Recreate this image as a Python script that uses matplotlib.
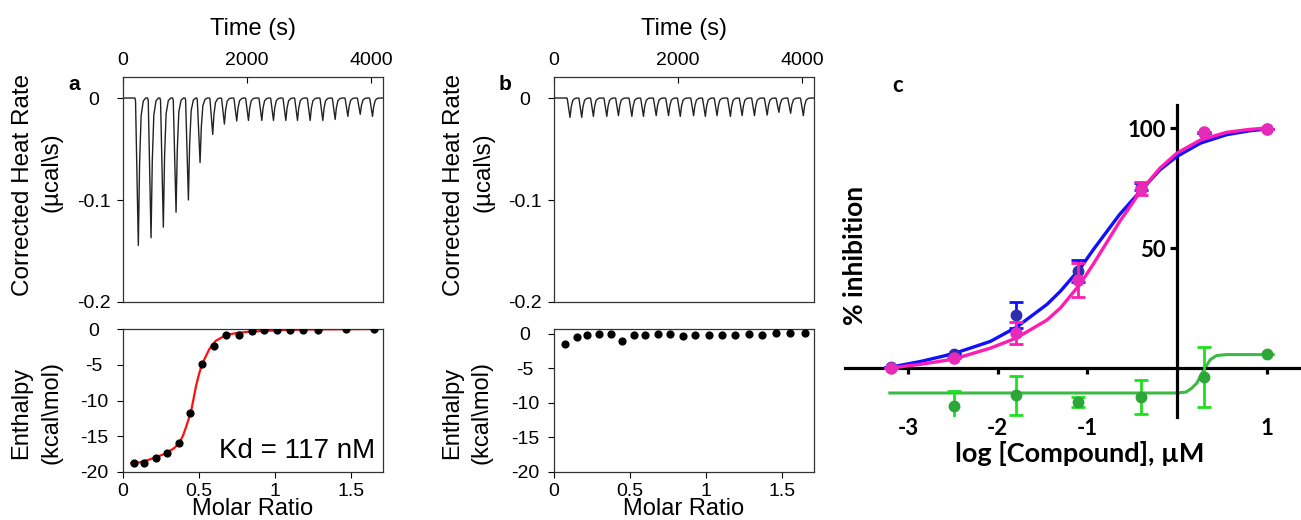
import numpy as np
import matplotlib
matplotlib.use('Agg')
import matplotlib.pyplot as plt

plt.rcParams['font.family'] = ['Liberation Sans', 'DejaVu Sans']
plt.rcParams['axes.unicode_minus'] = False

# ---- panel a / b : raw thermograms ----
inj_time_a = [247, 452, 650, 855, 1054, 1242, 1446, 1634, 1833, 2022,
              2237, 2425, 2624, 2812, 3016, 3220, 3419, 3624, 3823, 4021]
peak_depth_a = [0.1445, 0.137, 0.1266, 0.112, 0.100, 0.0633, 0.0357, 0.0255, 0.0225, 0.022,
                0.022, 0.022, 0.022, 0.022, 0.022, 0.022, 0.021, 0.018, 0.016, 0.018]
inj_time_b = [258, 447, 635, 851, 1039, 1255, 1442, 1647, 1846, 2035,
              2250, 2439, 2628, 2843, 3032, 3231, 3436, 3624, 3813, 4018]
peak_depth_b = [0.019, 0.019, 0.018, 0.018, 0.0173, 0.018, 0.018, 0.0173, 0.0173, 0.018,
                0.0173, 0.018, 0.0173, 0.018, 0.0173, 0.0173, 0.0167, 0.014, 0.015, 0.0173]
# shape of one injection peak: seconds from the minimum, fraction of depth
peak_offset = [-55, -45, 0, 20, 45, 80, 120]
peak_frac = [0, 0.02, 1, 0.45, 0.12, 0.02, 0]

# ---- panel a / b : integrated heats ----
molar_a = [0.07, 0.138, 0.22, 0.29, 0.367, 0.44, 0.518, 0.60, 0.68, 0.76,
           0.846, 0.93, 1.015, 1.10, 1.187, 1.28, 1.464, 1.65]
enthalpy_a = [-18.7, -18.7, -18.0, -17.4, -15.9, -11.7, -4.9, -2.4, -0.9, -0.85,
              -0.3, -0.2, -0.2, -0.15, -0.1, -0.2, -0.05, 0.0]
fit_molar_a = [0.055, 0.10, 0.175, 0.284, 0.34, 0.371, 0.395, 0.415, 0.448, 0.48,
               0.50, 0.52, 0.568, 0.61, 0.677, 0.75, 0.83, 1.05, 1.30, 1.65]
fit_enthalpy_a = [-18.75, -18.7, -18.25, -17.4, -16.6, -15.9, -14.9, -13.7, -11.5, -8.0,
                  -6.3, -4.9, -2.8, -1.65, -0.85, -0.55, -0.38, -0.15, -0.05, 0.0]
molar_b = [0.072, 0.149, 0.22, 0.295, 0.372, 0.446, 0.525, 0.60, 0.683, 0.766,
           0.849, 0.93, 1.02, 1.105, 1.19, 1.28, 1.368, 1.46, 1.55, 1.65]
enthalpy_b = [-1.45, -0.48, -0.15, 0.0, -0.05, -0.97, -0.1, -0.2, 0.0, 0.0,
              -0.3, -0.24, -0.1, -0.2, -0.1, -0.05, -0.1, 0.15, 0.15, 0.05]

# ---- panel c : dose response ----
log_conc = [-3.19, -2.49, -1.80, -1.10, -0.40, 0.30, 1.0]
inhib_blue = [0.5, 6.0, 22.2, 40.5, 75.5, 98.0, 99.5]
err_blue = [0, 0, 5.5, 4.5, 1.5, 0, 0]
inhib_pink = [0.0, 4.2, 14.6, 36.8, 74.8, 98.3, 99.6]
err_pink = [0, 0, 4.5, 7.0, 2.6, 0, 0]
log_conc_green = [-2.49, -1.80, -1.10, -0.40, 0.30, 1.0]
inhib_green = [-16.0, -11.4, -14.3, -12.0, -3.6, 5.8]
err_green = [6.5, 8.0, 2.1, 7.0, 12.5, 0]

curve_x = [-3.2, -2.85, -2.49, -2.08, -1.79, -1.45, -1.3, -1.08, -0.93, -0.64,
           -0.39, -0.19, 0.0, 0.26, 0.55, 0.8, 1.0]
curve_blue = [0.3, 2.8, 6.0, 11.1, 17.0, 26.5, 32.0, 41.5, 49.5, 64.0,
              74.5, 82.6, 88.2, 93.7, 97.2, 98.8, 99.6]
curve_pink = [0.0, 1.6, 3.7, 8.3, 12.5, 20.0, 25.0, 35.0, 43.5, 61.0,
              74.5, 83.3, 89.6, 95.0, 98.2, 99.4, 100.0]
curve_green_x = [-3.2, -1.0, 0.0, 0.10, 0.16, 0.22, 0.29, 0.37, 0.44, 0.55, 1.0]
curve_green = [-10.4, -10.4, -10.4, -10.0, -8.5, -6.3, -1.4, 3.5, 5.2, 5.6, 5.6]

W, H = 1301, 520
fig = plt.figure(figsize=(W / 100, H / 100), dpi=100)


def px_rect(left, top, right, bottom):
    return [left / W, 1 - bottom / H, (right - left) / W, (bottom - top) / H]


def fig_txt(x, y, s, **kw):
    fig.text(x / W, 1 - y / H, s, ha='center', va='center', **kw)


def thermogram(times, depths):
    t, y = [0], [0]
    for ti, d in zip(times, depths):
        for off, f in zip(peak_offset, peak_frac):
            t.append(ti + off)
            y.append(-d * f)
    t.append(4200)
    y.append(0)
    return t, y


def style_box(ax):
    for s in ax.spines.values():
        s.set_color('#333333')
        s.set_linewidth(0.9)


def itc_panel(dx, times, depths, molar, enthalpy, letter):
    ax1 = fig.add_axes(px_rect(123 + dx, 77, 383 + dx, 302))
    t, y = thermogram(times, depths)
    ax1.plot(t, y, color='#222222', lw=1.0)
    ax1.set_xlim(0, 4190)
    ax1.set_ylim(-0.2, 0.0206)
    ax1.xaxis.tick_top()
    ax1.set_xticks([0, 2000, 4000])
    ax1.set_yticks([0, -0.1, -0.2])
    ax1.set_yticklabels(['0', '-0.1', '-0.2'])
    ax1.tick_params(axis='x', direction='in', length=4, pad=6, labelsize=14)
    ax1.tick_params(axis='y', direction='out', length=4, pad=17, labelsize=14)
    for lb in ax1.get_yticklabels():
        lb.set_ha('center')
    style_box(ax1)

    ax2 = fig.add_axes(px_rect(123 + dx, 329, 383 + dx, 472))
    ax2.scatter(molar, enthalpy, s=24, color='black', zorder=3)
    ax2.set_xlim(0, 1.71)
    ax2.set_ylim(-20, 0.0 if letter == 'a' else 0.7)
    ax2.set_xticks([0, 0.5, 1, 1.5])
    ax2.set_xticklabels(['0', '0.5', '1', '1.5'])
    ax2.set_yticks([0, -5, -10, -15, -20])
    ax2.tick_params(axis='x', direction='out', length=4, pad=4, labelsize=14)
    ax2.tick_params(axis='y', direction='out', length=4, pad=17, labelsize=14)
    for lb in ax2.get_yticklabels():
        lb.set_ha('center')
    style_box(ax2)

    fig_txt(253 + dx, 29, 'Time (s)', fontsize=17)
    fig_txt(253 + dx, 509, 'Molar Ratio', fontsize=17)
    fig_txt(23 + dx, 185, 'Corrected Heat Rate', fontsize=17.5, rotation=90)
    fig_txt(52 + dx, 172, '(µcal\\s)', fontsize=17.5, rotation=90)
    fig_txt(21 + dx, 413, 'Enthalpy', fontsize=17, rotation=90)
    fig_txt(51 + dx, 412, '(kcal\\mol)', fontsize=17, rotation=90)
    fig_txt(74 + dx, 84, letter, fontsize=15, fontweight='bold')
    return ax2


ax_a = itc_panel(0, inj_time_a, peak_depth_a, molar_a, enthalpy_a, 'a')
ax_a.plot(fit_molar_a, fit_enthalpy_a, color='#ff1010', lw=1.6, zorder=2)
fig_txt(297, 451, 'Kd = 117 nM', fontsize=20)
itc_panel(431, inj_time_b, peak_depth_b, molar_b, enthalpy_b, 'b')

# ---- panel c ----
cfont = ['Lato', 'DejaVu Sans']
axc = fig.add_axes(px_rect(845, 105, 1300, 417))
axc.set_xlim(-3.7, 1.37)
axc.set_ylim(-20.4, 109.6)
for side in ['top', 'right']:
    axc.spines[side].set_visible(False)
axc.spines['left'].set_position(('data', 0))
axc.spines['bottom'].set_position(('data', 0))
for side in ['left', 'bottom']:
    axc.spines[side].set_linewidth(2.3)
    axc.spines[side].set_color('black')

green_line = '#3dba45'
green_err = '#1ee01e'
green_mk = '#2ca636'
axc.plot(curve_green_x, curve_green, color=green_line, lw=2.2, zorder=2)
axc.errorbar(log_conc_green, inhib_green, yerr=err_green, fmt='o', ms=7.5,
             color=green_mk, ecolor=green_err, elinewidth=2, capsize=5, capthick=2, zorder=3)

axc.plot(curve_x, curve_blue, color='#1010ff', lw=2.4, zorder=4)
axc.errorbar(log_conc, inhib_blue, yerr=err_blue, fmt='o', ms=7.5,
             color='#2d2db0', ecolor='#1010ff', elinewidth=2, capsize=5, capthick=2, zorder=5)
axc.plot(curve_x, curve_pink, color='#ff1cb4', lw=2.4, zorder=6)
axc.errorbar(log_conc, inhib_pink, yerr=err_pink, fmt='o', ms=8,
             color='#e62bb8', ecolor='#ff1cb4', elinewidth=2, capsize=5, capthick=2, zorder=7)

axc.set_xticks([-3, -2, -1, 1])
axc.set_xticklabels(['-3', '-2', '-1', '1'])
axc.set_yticks([50, 100])
axc.set_yticklabels(['50', '100'])
axc.tick_params(axis='x', direction='out', length=4, width=2.3, pad=32, labelsize=16)
axc.tick_params(axis='y', direction='out', length=5, width=2.3, pad=3, labelsize=16)
for lb in axc.get_xticklabels() + axc.get_yticklabels():
    lb.set_family(cfont)
    lb.set_fontweight('bold')

fig_txt(855, 255, '% inhibition', fontsize=19, rotation=90, fontweight='bold', family=cfont)
fig_txt(1080, 454, 'log [Compound], µM', fontsize=19.5, fontweight='bold', family=cfont)
fig_txt(898, 85, 'c', fontsize=16, fontweight='bold', family=cfont)

fig.savefig('out.png', dpi=100, facecolor='white')
